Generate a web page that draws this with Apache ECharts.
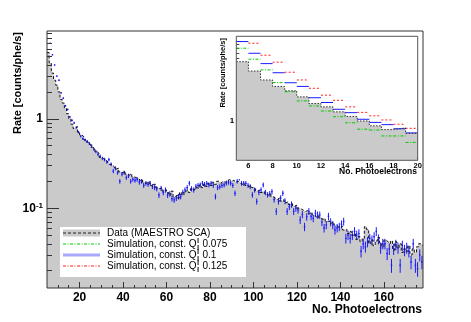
<!DOCTYPE html>
<html>
<head>
<meta charset="utf-8">
<script src="https://cdn.jsdelivr.net/npm/echarts@6/dist/echarts.min.js"></script>
<style>
  html, body { margin: 0; padding: 0; background: #fff; }
  #chart { width: 471px; height: 322px; }
</style>
</head>
<body>
<div id="chart"></div>
<script>
// first bin of the histograms (bins are 1 photoelectron wide)
const FIRST_BIN = 5;

// measured rate, bins 5..177
const dataRate = [
  5.5, 4.2, 3.25, 2.7, 2.38, 2.0, 1.65, 1.5, 1.3, 1.14,
  1.0, 0.87, 0.78, 0.82, 0.70, 0.66, 0.63, 0.58, 0.55, 0.52,
  0.48, 0.47, 0.43, 0.41, 0.37, 0.36, 0.345, 0.33, 0.31, 0.305,
  0.29, 0.275, 0.28, 0.255, 0.25, 0.26, 0.24, 0.235, 0.245, 0.225,
  0.22, 0.215, 0.205, 0.21, 0.195, 0.19, 0.2, 0.18, 0.175, 0.185,
  0.17, 0.165, 0.17, 0.155, 0.16, 0.15, 0.14, 0.155, 0.135, 0.14,
  0.13, 0.15, 0.14, 0.155, 0.16, 0.15, 0.165, 0.16, 0.17, 0.165,
  0.18, 0.17, 0.185, 0.175, 0.19, 0.18, 0.195, 0.185, 0.2, 0.19,
  0.2, 0.195, 0.205, 0.21, 0.2, 0.205, 0.195, 0.2, 0.19, 0.185,
  0.19, 0.18, 0.175, 0.18, 0.17, 0.165, 0.155, 0.16, 0.15, 0.155,
  0.145, 0.14, 0.145, 0.135, 0.13, 0.125, 0.13, 0.12, 0.125, 0.115,
  0.118, 0.11, 0.112, 0.105, 0.108, 0.1, 0.098, 0.095, 0.092, 0.094,
  0.088, 0.09, 0.084, 0.08, 0.083, 0.078, 0.075, 0.077, 0.071, 0.072,
  0.068, 0.07, 0.065, 0.062, 0.06, 0.063, 0.057, 0.058, 0.052, 0.055,
  0.05, 0.052, 0.045, 0.048, 0.042, 0.046, 0.062, 0.058, 0.04, 0.044,
  0.038, 0.043, 0.047, 0.041, 0.037, 0.044, 0.042, 0.04, 0.043, 0.034,
  0.042, 0.036, 0.04, 0.032, 0.035, 0.033, 0.038, 0.03, 0.035, 0.032,
  0.037, 0.04, 0.038
];

// simulation, const. Q 0.1, bins 5..177
const simRate010 = [
  9.8, 7.0, 5.2, 4.0, 3.0, 2.7, 1.95, 1.7, 1.4, 1.27,
  1.05, 0.96, 0.9, 0.8, 0.71, 0.64, 0.6, 0.58, 0.56, 0.53,
  0.5, 0.46, 0.43, 0.4, 0.38, 0.36, 0.35, 0.33, 0.35, 0.31,
  0.26, 0.28, 0.25, 0.2, 0.24, 0.25, 0.22, 0.23, 0.2, 0.21,
  0.205, 0.21, 0.195, 0.2, 0.18, 0.19, 0.185, 0.19, 0.175, 0.17,
  0.165, 0.14, 0.167, 0.15, 0.16, 0.14, 0.145, 0.128, 0.124, 0.13,
  0.135, 0.135, 0.15, 0.16, 0.17, 0.19, 0.165, 0.16, 0.175, 0.18,
  0.182, 0.19, 0.185, 0.19, 0.182, 0.19, 0.18, 0.135, 0.17, 0.174,
  0.18, 0.182, 0.19, 0.195, 0.19, 0.18, 0.147, 0.2, 0.216, 0.19,
  0.19, 0.19, 0.18, 0.174, 0.141, 0.16, 0.119, 0.15, 0.16, 0.182,
  0.15, 0.141, 0.145, 0.153, 0.125, 0.092, 0.119, 0.13, 0.147, 0.12,
  0.092, 0.104, 0.11, 0.092, 0.1, 0.095, 0.074, 0.085, 0.062, 0.08,
  0.092, 0.081, 0.077, 0.088, 0.084, 0.084, 0.07, 0.06, 0.065, 0.081,
  0.07, 0.065, 0.057, 0.06, 0.062, 0.066, 0.071, 0.046, 0.05, 0.046,
  0.05, 0.055, 0.05, 0.052, 0.033, 0.04, 0.037, 0.042, 0.046, 0.044,
  0.048, 0.055, 0.045, 0.036, 0.04, 0.04, 0.031, 0.035, 0.023, 0.035,
  0.039, 0.036, 0.023, 0.038, 0.034, 0.036, 0.033, 0.025, 0.04, 0.023,
  0.021, 0.03, 0.025
];

// inset only (bins 5..19)
const insetBins = 15;
const simRate0075 = [8.1, 5.9, 4.34, 3.01, 2.32, 1.78, 1.54, 1.33, 1.13, 0.95, 0.79, 0.77, 0.65, 0.65, 0.54];
const simRate0125 = [null, 9.35, 6.62, 5.42, 4.06, 3.25, 2.56, 2.1, 1.81, 1.5, 1.28, 1.16, 1.03, 0.91, 0.81];

// axis ticks
const mainXLabels = [20, 40, 60, 80, 100, 120, 140, 160];
const mainXMinor = [10, 15, 25, 30, 35, 45, 50, 55, 65, 70, 75, 85, 90, 95, 105, 110, 115, 125, 130, 135, 145, 150, 155, 165, 170, 175];
const mainYLabels = [0.1, 1];
const mainYMinor = [0.02, 0.03, 0.04, 0.05, 0.06, 0.07, 0.08, 0.09, 0.2, 0.3, 0.4, 0.5, 0.6, 0.7, 0.8, 0.9, 2, 3, 4, 5, 6, 7, 8, 9];
const insetXLabels = [6, 8, 10, 12, 14, 16, 18, 20];
const insetXMinor = [7, 9, 11, 13, 15, 17, 19];
const insetYMajor = [1, 10];
const insetYMinor = [0.4, 0.5, 0.6, 0.7, 0.8, 0.9, 2, 3, 4, 5, 6, 7, 8, 9];

const FONT = 'Liberation Sans, Arial, sans-serif';
const GRAY = '#cacaca';
const BLUE = '#1a1aff';
const GREEN = '#00cc00';
const RED = '#ff2020';

// histogram as step line: one point per left bin edge plus the closing edge
function stepPoints(vals, n) {
  const pts = [];
  for (let i = 0; i < n; i++) pts.push([FIRST_BIN + i, vals[i]]);
  pts.push([FIRST_BIN + n, vals[n - 1]]);
  return pts;
}
function binPoints(vals, n) {
  const pts = [];
  for (let i = 0; i < n; i++) if (vals[i] != null) pts.push([FIRST_BIN + i, vals[i]]);
  return pts;
}

// horizontal bin segment (no risers)
function segRenderer(color, dash, width) {
  return function (params, api) {
    const x = api.value(0), v = api.value(1);
    const a = api.coord([x, v]), b = api.coord([x + 1, v]);
    return {
      type: 'line',
      shape: { x1: a[0], y1: a[1], x2: b[0], y2: b[1] },
      style: { stroke: color, lineWidth: width, lineDash: dash }
    };
  };
}

// point with vertical error bar (statistical error grows as rate drops)
function errRenderer(params, api) {
  const x = api.value(0), v = api.value(1);
  const rel = Math.min(0.45, 0.17 * Math.sqrt(0.025 / v));
  const a = api.coord([x + 0.15, v]), b = api.coord([x + 0.85, v]);
  const hi = api.coord([x + 0.5, v * (1 + rel)]), lo = api.coord([x + 0.5, v * (1 - rel)]);
  return {
    type: 'group',
    children: [
      { type: 'line', shape: { x1: a[0], y1: a[1], x2: b[0], y2: b[1] }, style: { stroke: BLUE, lineWidth: 1.3 } },
      { type: 'line', shape: { x1: hi[0], y1: hi[1], x2: lo[0], y2: lo[1] }, style: { stroke: BLUE, lineWidth: 1 } }
    ]
  };
}

const nBins = dataRate.length;

function tickAxis(base, extra) {
  return Object.assign({
    axisLine: { show: false },
    splitLine: { show: false },
    axisLabel: { show: false },
    axisTick: { show: false }
  }, base, extra);
}

const mainX = { type: 'value', gridIndex: 0, min: 5, max: 178, position: 'bottom', z: 5 };
const mainY = { type: 'log', gridIndex: 0, min: 0.0128, max: 9.6, position: 'left', z: 5 };
const insetX = { type: 'value', gridIndex: 1, min: 5, max: 20, position: 'bottom', z: 6 };
const insetY = { type: 'log', gridIndex: 1, min: 0.323, max: 11.4, position: 'left', z: 6 };

const chart = echarts.init(document.getElementById('chart'), null, { renderer: 'canvas' });

const option = {
  animation: false,
  backgroundColor: '#fff',
  grid: [
    { left: 47, top: 31, width: 376, height: 257, show: true, borderColor: '#333', borderWidth: 1, backgroundColor: 'transparent', z: 4 },
    { left: 236.3, top: 36.3, width: 181.4, height: 124, show: true, borderColor: '#555', borderWidth: 1, backgroundColor: 'transparent', z: 8 }
  ],
  xAxis: [
    tickAxis(mainX, {
      axisTick: { show: true, inside: true, length: 6, customValues: mainXLabels, lineStyle: { color: '#333' } },
      axisLabel: { show: true, customValues: mainXLabels, margin: 4, color: '#000', fontSize: 12, fontWeight: 'bold', fontFamily: FONT }
    }),
    tickAxis(mainX, {
      axisTick: { show: true, inside: true, length: 3, customValues: mainXMinor, lineStyle: { color: '#333' } }
    }),
    tickAxis(insetX, {
      axisTick: { show: true, inside: true, length: 4, customValues: insetXLabels, lineStyle: { color: '#444' } },
      axisLabel: { show: true, customValues: insetXLabels, margin: 2, color: '#000', fontSize: 7.5, fontWeight: 'bold', fontFamily: FONT }
    }),
    tickAxis(insetX, {
      axisTick: { show: true, inside: true, length: 2, customValues: insetXMinor, lineStyle: { color: '#444' } }
    })
  ],
  yAxis: [
    tickAxis(mainY, {
      axisTick: { show: true, inside: true, length: 12, customValues: mainYLabels, lineStyle: { color: '#333' } },
      axisLabel: {
        show: true, customValues: mainYLabels, margin: 4, color: '#000', fontSize: 12, fontWeight: 'bold', fontFamily: FONT,
        formatter: v => (Math.abs(v - 1) < 1e-6 ? '1' : '10{s|-1}'),
        rich: { s: { fontSize: 8, fontWeight: 'bold', fontFamily: FONT, color: '#000', verticalAlign: 'top', lineHeight: 8 } }
      }
    }),
    tickAxis(mainY, {
      axisTick: { show: true, inside: true, length: 5, customValues: mainYMinor, lineStyle: { color: '#333' } }
    }),
    tickAxis(insetY, {
      axisTick: { show: true, inside: true, length: 6, customValues: insetYMajor, lineStyle: { color: '#444' } },
      axisLabel: { show: true, customValues: [1], margin: 2, color: '#000', fontSize: 8, fontWeight: 'bold', fontFamily: FONT }
    }),
    tickAxis(insetY, {
      axisTick: { show: true, inside: true, length: 3, customValues: insetYMinor, lineStyle: { color: '#444' } }
    })
  ],
  series: [
    {
      name: 'Data (MAESTRO SCA)',
      type: 'line', xAxisIndex: 0, yAxisIndex: 0, z: 2,
      data: stepPoints(dataRate, nBins),
      step: 'end', symbol: 'none', clip: true,
      lineStyle: { color: '#111', width: 1, type: [3, 2] },
      areaStyle: { color: GRAY, opacity: 1, origin: 'start' }
    },
    {
      name: 'Simulation, const. Q 0.1',
      type: 'custom', xAxisIndex: 0, yAxisIndex: 0, z: 2, clip: true,
      data: binPoints(simRate010, nBins),
      renderItem: errRenderer
    },
    {
      name: 'inset data',
      type: 'line', xAxisIndex: 2, yAxisIndex: 2, z: 7,
      data: stepPoints(dataRate, insetBins),
      step: 'end', symbol: 'none', clip: true,
      lineStyle: { color: '#333', width: 1, type: [1.5, 1.5] },
      areaStyle: { color: GRAY, opacity: 1, origin: 'start' }
    },
    {
      type: 'custom', xAxisIndex: 2, yAxisIndex: 2, z: 7, clip: true,
      data: binPoints(simRate010, insetBins),
      renderItem: segRenderer(BLUE, null, 1)
    },
    {
      type: 'custom', xAxisIndex: 2, yAxisIndex: 2, z: 7, clip: true,
      data: binPoints(simRate0075, insetBins),
      renderItem: segRenderer(GREEN, [3, 1.5, 1, 1.5], 1)
    },
    {
      type: 'custom', xAxisIndex: 2, yAxisIndex: 2, z: 7, clip: true,
      data: binPoints(simRate0125, insetBins),
      renderItem: segRenderer(RED, [2, 2], 1)
    }
  ],
  graphic: [
    // white pad under the inset
    { type: 'rect', z: 3, shape: { x: 216, y: 32, width: 206, height: 147 }, style: { fill: '#fff' } },
    // axis titles
    { type: 'text', z: 10, x: 18, y: 32, rotation: Math.PI / 2,
      style: { text: 'Rate [counts/phe/s]', font: 'bold 11px ' + FONT, fill: '#000', align: 'right', verticalAlign: 'middle' } },
    { type: 'text', z: 10, x: 422, y: 310,
      style: { text: 'No. Photoelectrons', font: 'bold 12px ' + FONT, fill: '#000', align: 'right', verticalAlign: 'middle' } },
    { type: 'text', z: 10, x: 223, y: 38, rotation: Math.PI / 2,
      style: { text: 'Rate [counts/phe/s]', font: 'bold 7.5px ' + FONT, fill: '#000', align: 'right', verticalAlign: 'middle' } },
    { type: 'text', z: 10, x: 417, y: 172,
      style: { text: 'No. Photoelectrons', font: 'bold 8.5px ' + FONT, fill: '#000', align: 'right', verticalAlign: 'middle' } },
    // legend
    { type: 'rect', z: 10, shape: { x: 60, y: 227, width: 186, height: 50 }, style: { fill: '#fff' } },
    { type: 'rect', z: 11, shape: { x: 63, y: 229.5, width: 37, height: 7 }, style: { fill: GRAY } },
    { type: 'line', z: 11, shape: { x1: 63, y1: 233, x2: 100, y2: 233 }, style: { stroke: '#222', lineWidth: 1, lineDash: [3, 2] } },
    { type: 'line', z: 11, shape: { x1: 63, y1: 244, x2: 100, y2: 244 }, style: { stroke: GREEN, lineWidth: 1, lineDash: [3, 1.5, 1, 1.5] } },
    { type: 'line', z: 11, shape: { x1: 63, y1: 255, x2: 100, y2: 255 }, style: { stroke: '#a8a8ff', lineWidth: 3 } },
    { type: 'line', z: 11, shape: { x1: 63, y1: 266, x2: 100, y2: 266 }, style: { stroke: RED, lineWidth: 1, lineDash: [3, 1.5, 1, 1.5] } },
    { type: 'text', z: 11, x: 107, y: 233, style: { text: 'Data (MAESTRO SCA)', font: '10px ' + FONT, fill: '#000', verticalAlign: 'middle' } },
    { type: 'text', z: 11, x: 107, y: 244, style: { text: 'Simulation, const. Q{b|¦} 0.075', font: '10px ' + FONT, fill: '#000', verticalAlign: 'middle',
      rich: { b: { font: '12px ' + FONT, fill: '#000' } } } },
    { type: 'text', z: 11, x: 107, y: 255, style: { text: 'Simulation, const. Q{b|¦} 0.1', font: '10px ' + FONT, fill: '#000', verticalAlign: 'middle',
      rich: { b: { font: '12px ' + FONT, fill: '#000' } } } },
    { type: 'text', z: 11, x: 107, y: 266, style: { text: 'Simulation, const. Q{b|¦} 0.125', font: '10px ' + FONT, fill: '#000', verticalAlign: 'middle',
      rich: { b: { font: '12px ' + FONT, fill: '#000' } } } }
  ]
};

chart.setOption(option);
</script>
</body>
</html>
